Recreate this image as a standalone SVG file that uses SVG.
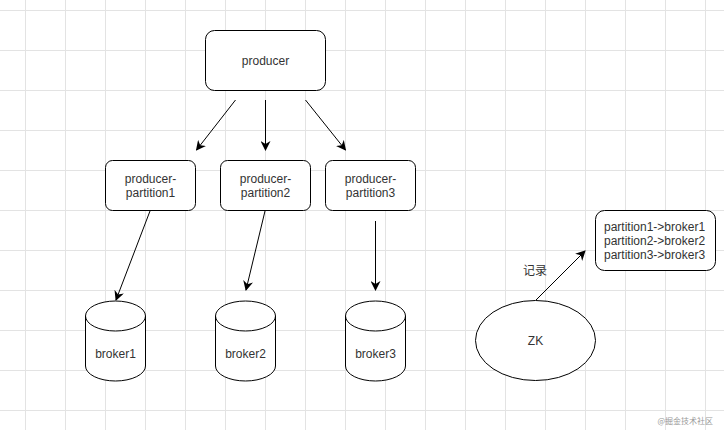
<svg xmlns="http://www.w3.org/2000/svg" width="724" height="430" viewBox="0 0 724 430">
<defs>
<pattern id="grid" x="25" y="10" width="40" height="40" patternUnits="userSpaceOnUse">
<path d="M0.5 0V40M0 0.5H40" fill="none" stroke="#e3e3e3" stroke-width="1"/>
</pattern>
<marker id="arr" viewBox="0 0 10 10" refX="9" refY="5" markerWidth="10" markerHeight="10" markerUnits="userSpaceOnUse" orient="auto">
<path d="M0 0L10 5L0 10L3 5Z" fill="#000"/>
</marker>
</defs>
<style>
.box{fill:#fff;stroke:#000;stroke-width:1}
.t{font-family:"Liberation Sans",Arial,sans-serif;font-size:12px;fill:#333;text-anchor:middle}
.tl{font-family:"Liberation Sans",Arial,sans-serif;font-size:12px;fill:#333}
.c{fill:none;stroke:#000;stroke-width:1;marker-end:url(#arr)}
</style>
<rect width="724" height="430" fill="#fff"/>
<rect width="724" height="430" fill="url(#grid)"/>
<g id="producer">
<rect class="box" x="205.5" y="30.5" width="120" height="60" rx="9"/>
<text class="t" x="265.5" y="65">producer</text>
</g>
<g id="pp1">
<rect class="box" x="105.5" y="160.5" width="90" height="50" rx="7"/>
<text class="t" x="150.5" y="183">producer-</text>
<text class="t" x="150.5" y="197">partition1</text>
</g>
<g id="pp2">
<rect class="box" x="220.5" y="160.5" width="90" height="50" rx="7"/>
<text class="t" x="265.5" y="183">producer-</text>
<text class="t" x="265.5" y="197">partition2</text>
</g>
<g id="pp3">
<rect class="box" x="325.5" y="160.5" width="90" height="50" rx="7"/>
<text class="t" x="370.5" y="183">producer-</text>
<text class="t" x="370.5" y="197">partition3</text>
</g>
<g id="broker1">
<path class="box" d="M85.5 316V366A30 15 0 0 0 145.5 366V316A30 15 0 0 0 85.5 316A30 15 0 0 0 145.5 316"/>
<text class="t" x="115.5" y="358">broker1</text>
</g>
<g id="broker2">
<path class="box" d="M215.5 316V366A30 15 0 0 0 275.5 366V316A30 15 0 0 0 215.5 316A30 15 0 0 0 275.5 316"/>
<text class="t" x="245.5" y="358">broker2</text>
</g>
<g id="broker3">
<path class="box" d="M345.5 316V366A30 15 0 0 0 405.5 366V316A30 15 0 0 0 345.5 316A30 15 0 0 0 405.5 316"/>
<text class="t" x="375.5" y="358">broker3</text>
</g>
<g id="zk">
<ellipse class="box" cx="535.5" cy="340.5" rx="60" ry="40"/>
<text class="t" x="535.5" y="345">ZK</text>
</g>
<g id="record">
<rect class="box" x="595.5" y="210.5" width="120" height="60" rx="9"/>
<text class="tl" x="604" y="231">partition1-&gt;broker1</text>
<text class="tl" x="604" y="245">partition2-&gt;broker2</text>
<text class="tl" x="604" y="259">partition3-&gt;broker3</text>
</g>
<g id="connectors">
<line class="c" x1="235.5" y1="100" x2="196.5" y2="150"/>
<line class="c" x1="265.5" y1="100" x2="265.5" y2="150"/>
<line class="c" x1="305.5" y1="100" x2="345.5" y2="150"/>
<line class="c" x1="150" y1="211" x2="116" y2="300"/>
<line class="c" x1="265" y1="211" x2="246" y2="290"/>
<line class="c" x1="375.5" y1="221" x2="375.5" y2="290"/>
<line class="c" x1="536" y1="300" x2="585" y2="251"/>
<text class="t" x="535" y="275" style="font-family:'Noto Sans CJK SC',sans-serif">记录</text>
</g>
<text x="713" y="424" style="font-family:'Noto Sans CJK SC',sans-serif;font-size:8px;fill:#999;text-anchor:end">@掘金技术社区</text>
</svg>
